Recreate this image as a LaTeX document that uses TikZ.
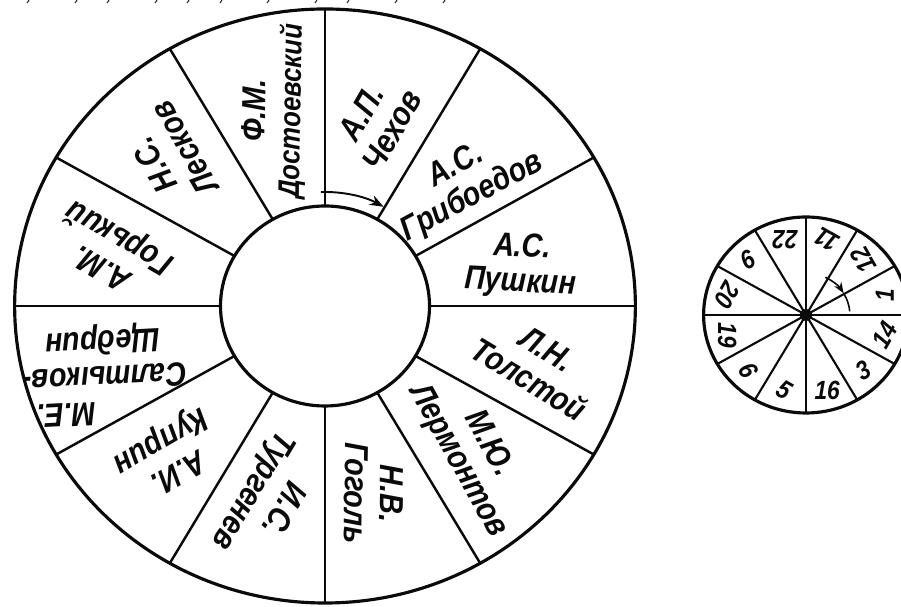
\documentclass[tikz,border=0pt]{standalone}
\usepackage{fontspec}
\newfontfamily\wheelfont{Liberation Sans}[FakeStretch=0.86]
\usetikzlibrary{arrows.meta}
\definecolor{inkblack}{RGB}{10,10,10}
\tikzset{
  rim/.style={inkblack, line width=1.8pt},
  spoke/.style={inkblack, line width=1.4pt},
  namelabel/.style={font=\wheelfont\bfseries\itshape\fontsize{19}{20}\selectfont, text=inkblack, align=center, inner sep=0pt},
  hourlabel/.style={font=\wheelfont\bfseries\itshape\fontsize{15}{16}\selectfont, text=inkblack, inner sep=0pt}
}
\begin{document}
\begin{tikzpicture}[x=0.02cm, y=0.02cm]
  \useasboundingbox (0,0) rectangle (901,607);
  \foreach \x in {27,75,107,155,187,220,267,315,347,395,443}
    \draw[inkblack, line width=0.5pt] (\x,604) -- ++(2,3);
  \begin{scope}[shift={(325,301)}, xscale=1.045]
    \draw[rim] (0,0) circle[radius=297];
    \draw[rim] (0,0) circle[radius=100];
    \foreach \a in {0,30,...,330}
      \draw[spoke] (\a:100) -- (\a:297);
    \draw[inkblack, line width=1.1pt, -{Stealth[length=2.8mm]}] (92:114) arc[start angle=92, end angle=60.5, radius=114];
    \foreach \a/\r/\name in {75/191/{А.П.\\Чехов}, 43/182/{А.С.\\Грибоедов}, 12/192/{А.С.\\Пушкин},
        -16/212/{Л.Н.\\Толстой}, -46/204/{М.Ю.\\Лермонтов}, -76/193/{Н.В.\\Гоголь},
        -106/201/{И.С.\\Тургенев}, -135/211/{А.И.\\Куприн}, -162/222/{\hspace*{2.4em}М.Е.\\Салтыков-\\Щедрин},
        165/211/{А.М.\\Горький}, 135/211/{Н.С.\\Лесков}, 104/201/{Ф.М.\\\fontsize{17}{20}\selectfont Достоевский}}
      \node[namelabel, rotate=\a-15] (name\a) at (\a:\r) {\name};
  \end{scope}
  \begin{scope}[shift={(806,292)}, xscale=1.045]
    \draw[rim] (0,0) circle[radius=98];
    \foreach \a in {0,30,...,330}
      \draw[inkblack, line width=1.2pt] (0,0) -- (\a:98);
    \fill[inkblack] (0,0) circle[radius=6];
    \draw[inkblack, line width=0.9pt, -{Stealth[length=2.2mm]}] (64:42) arc[start angle=64, end angle=31, radius=42];
    \draw[inkblack, line width=0.9pt] (30:42) arc[start angle=30, end angle=5, radius=42];
    \foreach \a/\h in {75/11, 45/12, 15/1, -15/14, -45/3, -75/16, -105/5, -135/6, -165/19, 165/20, 135/9, 105/22}
      \node[hourlabel, rotate=\a+75] (hour\h) at (\a:78) {\h};
  \end{scope}
\end{tikzpicture}
\end{document}
